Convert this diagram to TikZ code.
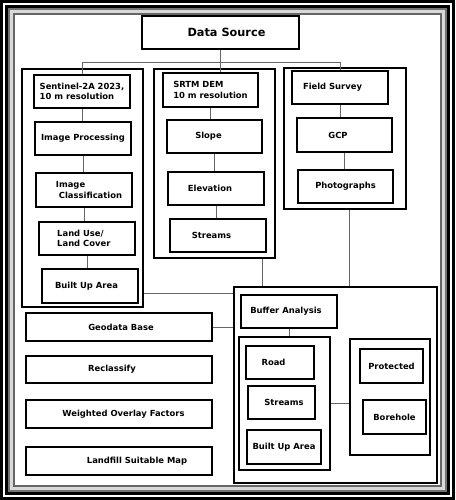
\documentclass[tikz,border=0pt]{standalone}
\usepackage{fontspec}
\setmainfont{DejaVu Sans}
\begin{document}
\begin{tikzpicture}[x=1pt,y=-1pt,
  box/.style={draw=black, line width=1.2pt, fill=white, inner sep=0pt,
    font=\bfseries\fontsize{8.4}{10.5}\selectfont},
  grp/.style={draw=black, line width=1.2pt, fill=white, inner sep=0pt},
  conn/.style={draw=black!60, line width=0.9pt}]
\useasboundingbox (0,0) rectangle (455,500);
% frame
\fill[black] (0,0) rectangle (455,500);
\fill[white] (3.3,3.3) rectangle (451.7,496.7);
\fill[black] (4.7,4.7) rectangle (450.3,495.3);
\fill[black!55] (8,8) rectangle (447,492);
\fill[black!15] (10,10) rectangle (445,490);
\draw[black!60, line width=1.5pt, fill=white] (14,14) rectangle (441,486);

% group boxes
\node[grp, minimum width=121pt, minimum height=238pt] (lg) at (82.5,188) {};
\node[grp, minimum width=121pt, minimum height=189pt] (mg) at (214.5,163.5) {};
\node[grp, minimum width=122pt, minimum height=141pt] (rg) at (345,138.5) {};
\node[grp, minimum width=203pt, minimum height=196pt] (br) at (335.5,385) {};
\node[grp, minimum width=91pt, minimum height=133pt] (ilg) at (284.5,403.5) {};
\node[grp, minimum width=80pt, minimum height=116pt] (irg) at (390,397) {};

% boxes
\node[box, minimum width=157pt, minimum height=33pt, font=\bfseries\fontsize{11.3}{13}\selectfont] (ds) at (220.5,32.5) {\hspace*{12pt}Data Source};

\node[box, minimum width=96pt, minimum height=33pt, align=left] (sen) at (82,91.5) {Sentinel-2A 2023,\\10 m resolution};
\node[box, minimum width=96pt, minimum height=33pt] (ip) at (83,138.5) {Image Processing};
\node[box, minimum width=96pt, minimum height=34pt, align=left] (ic) at (84,190) {\hspace*{10pt}Image\\\hspace*{13pt}Classification};
\node[box, minimum width=96pt, minimum height=33pt, align=left] (lu) at (87,238.5) {Land Use/\hspace*{13pt}\\Land Cover};
\node[box, minimum width=96pt, minimum height=34pt] (bua) at (90,286) {Built Up Area\hspace*{7pt}};

\node[box, minimum width=95pt, minimum height=34pt, align=left] (srtm) at (210.5,90) {SRTM DEM\\10 m resolution};
\node[box, minimum width=95pt, minimum height=33pt] (slope) at (214.5,136.5) {Slope\hspace*{12pt}};
\node[box, minimum width=96pt, minimum height=33pt] (elev) at (216,188.5) {Elevation\hspace*{12pt}};
\node[box, minimum width=96pt, minimum height=33pt] (stra) at (218,235.5) {Streams\hspace*{13pt}};

\node[box, minimum width=96pt, minimum height=33pt] (fs) at (340,87.5) {Field Survey\hspace*{15pt}};
\node[box, minimum width=95pt, minimum height=34pt] (gcp) at (344.5,135) {GCP\hspace*{13pt}};
\node[box, minimum width=95pt, minimum height=33pt] (ph) at (345.5,186.5) {Photographs};

\node[box, minimum width=96pt, minimum height=33pt] (buf) at (289,311.5) {Buffer Analysis\hspace*{6pt}};
\node[box, minimum width=68pt, minimum height=33pt] (road) at (280,362.5) {Road\hspace*{13pt}};
\node[box, minimum width=67pt, minimum height=33pt] (strb) at (281.5,402.5) {\hspace*{5pt}Streams};
\node[box, minimum width=74pt, minimum height=34pt] (bub) at (284,447) {Built Up Area};
\node[box, minimum width=63pt, minimum height=34pt] (prot) at (391.5,366) {Protected};
\node[box, minimum width=63pt, minimum height=34pt] (bore) at (394.5,417) {Borehole};

\node[box, minimum width=186pt, minimum height=28pt] (geo) at (119,327) {\hspace*{4pt}Geodata Base};
\node[box, minimum width=186pt, minimum height=27pt] (rec) at (119,369.5) {Reclassify\hspace*{14pt}};
\node[box, minimum width=186pt, minimum height=28pt] (wof) at (119,414) {\hspace*{9pt}Weighted Overlay Factors};
\node[box, minimum width=186pt, minimum height=28pt] (lsm) at (119,461) {\hspace*{36pt}Landfill Suitable Map};

% connectors
\begin{scope}[on background layer/.style={}]
\end{scope}
\draw[conn] (ds.south) -- (ds.south |- srtm.north);
\draw[conn] (sen.north) -- ++(0,-12) -| (fs.north);
\draw[conn] (sen.south) -- (sen.south |- ip.north);
\draw[conn] (ip.south) -- (ip.south |- ic.north);
\draw[conn] (ic.south) -- (ic.south |- lu.north);
\draw[conn] (lu.south) -- (lu.south |- bua.north);
\draw[conn] (srtm.south) -- (srtm.south |- slope.north);
\draw[conn] (slope.south) -- (slope.south |- elev.north);
\draw[conn] (elev.south) -- (elev.south |- stra.north);
\draw[conn] (fs.south) -- (fs.south |- gcp.north);
\draw[conn] (gcp.south) -- (gcp.south |- ph.north);
\draw[conn] ([xshift=47.5pt]mg.south) -- ([xshift=47.5pt]mg.south |- br.north);
\draw[conn] ([xshift=4pt]rg.south) -- ([xshift=4pt]rg.south |- br.north);
\draw[conn] ([yshift=14pt]lg.south east) -- ([yshift=14pt]lg.south east -| br.west);
\draw[conn] (geo.east) -- (geo.east -| br.west);
\draw[conn] (buf.south) -- (buf.south |- ilg.north);
\draw[conn] (ilg.east) -- (ilg.east -| irg.west);
\end{tikzpicture}
\end{document}
